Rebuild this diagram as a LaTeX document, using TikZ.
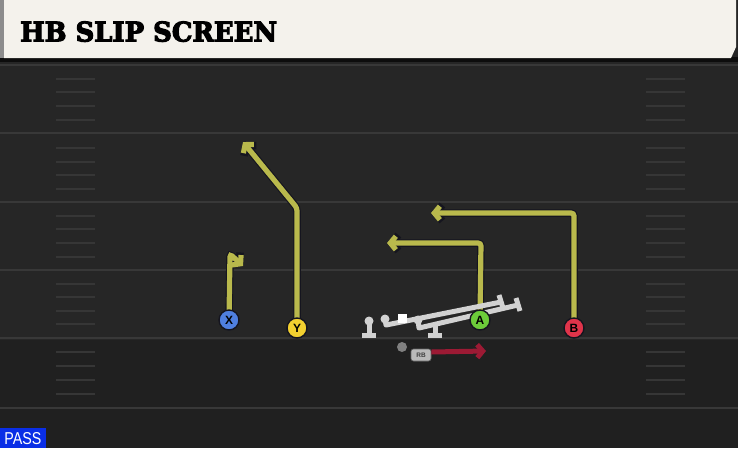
\documentclass[tikz,border=0pt]{standalone}
\usepackage{fontspec}
\setmainfont{Liberation Sans}
\newfontfamily\titlefont[FakeBold=4]{DejaVu Serif}
\usetikzlibrary{arrows.meta}
\definecolor{fieldC}{HTML}{262626}
\definecolor{fieldD}{HTML}{202020}
\definecolor{yardC}{HTML}{383838}
\definecolor{hashC}{HTML}{363636}
\definecolor{creamC}{HTML}{F4F2EC}
\definecolor{routeC}{HTML}{B9B94C}
\definecolor{outlineC}{HTML}{15151F}
\definecolor{xC}{HTML}{4F7FE0}
\definecolor{yC}{HTML}{F2D030}
\definecolor{aC}{HTML}{6CCC3A}
\definecolor{bC}{HTML}{E0344A}
\definecolor{olC}{HTML}{D2D2D2}
\definecolor{rbC}{HTML}{9C1A34}
\definecolor{passC}{HTML}{0A2EE6}
\tikzset{
  yard/.style={draw=yardC, line width=2pt},
  hashm/.style={draw=hashC, line width=1.3pt},
  routeout/.style={draw=outlineC, line width=7.5pt, rounded corners=3pt, -{Straight Barb[length=6.5pt,width=16pt]}},
  routein/.style={draw=routeC, line width=5.2pt, rounded corners=3pt, -{Straight Barb[length=5.5pt,width=13.5pt]}},
  player/.style={circle, draw=outlineC, line width=1.4pt, minimum size=20pt, inner sep=0pt, font=\bfseries\fontsize{12}{12}\selectfont, text=black},
  oline/.style={draw=olC, line width=5pt, line join=round},
}
\begin{document}
\begin{tikzpicture}[x=1pt,y=-1pt]
\useasboundingbox (0,0) rectangle (738,448);
% background
\fill[fieldC] (0,0) rectangle (738,448);
\fill[fieldD] (0,340) rectangle (738,448);
\fill[black!95] (0,57) rectangle (738,62);
\fill[black!45] (0,0) rectangle (4,58);
\fill[creamC] (4,0) -- (736,0) -- (736,47) -- (731,58) -- (4,58) -- cycle;
\node[anchor=south west, inner sep=0pt] (title) at (20,42)
  {\resizebox{257pt}{20pt}{\titlefont\bfseries HB SLIP SCREEN}};
% yard lines
\foreach \yy in {65,133,202,270,338,408} \draw[yard] (0,\yy) -- (738,\yy);
% hash marks
\foreach \yy in {79,92,106,120,148,162,175,189,216,229,243,257,284,297,311,324,352,366,380,394} {
  \draw[hashm] (56,\yy) -- (95,\yy);
  \draw[hashm] (646,\yy) -- (685,\yy);
}
% players
\coordinate (xC) at (229,320);
\coordinate (yCc) at (297,328);
\coordinate (aCc) at (480,320);
\coordinate (bCc) at (574,328);
% route end points
\coordinate (x1) at (230,254);
\coordinate (xe) at (243,266);
\coordinate (y1) at (297,208);
\coordinate (ye) at (243,142);
\coordinate (a1) at (481,243);
\coordinate (ae) at (387,243);
\coordinate (b1) at (574,213);
\coordinate (be) at (431,213);
% routes: outline then fill
\draw[routeout] (xC) -- (x1) -- (xe);
\draw[routein] (xC) -- (x1) -- (xe);
\draw[routeout] (yCc) -- (y1) -- (ye);
\draw[routein] (yCc) -- (y1) -- (ye);
\draw[routeout] (aCc) -- (a1) -- (ae);
\draw[routein] (aCc) -- (a1) -- (ae);
\draw[routeout] (bCc) -- (b1) -- (be);
\draw[routein] (bCc) -- (b1) -- (be);
% offensive line
\fill[olC] (369,321) circle (4.5pt);
\draw[oline] (369,321) -- (369,334);
\draw[oline] (362,335) -- (376,335);
\fill[olC] (385,319) circle (4.5pt);
\draw[oline] (385,319) -- (386,325) -- (501,302);
\draw[oline] (499,295) -- (503,308);
\fill[olC] (418,320) circle (4.5pt);
\draw[oline] (418,320) -- (419,328) -- (518,305);
\draw[oline] (516,298) -- (520,311);
\draw[oline] (435,324) -- (435,334);
\draw[oline] (428,335) -- (442,335);
\node[fill=white, minimum size=9pt, inner sep=0pt] (ctr) at (402,318) {};
% players on top
\node[player, fill=xC] (X) at (xC) {X};
\node[player, fill=yC] (Y) at (yCc) {Y};
\node[player, fill=aC] (A) at (aCc) {A};
\node[player, fill=bC] (B) at (bCc) {B};
% QB and RB
\node[circle, fill=black!50, minimum size=10pt, inner sep=0pt] (qb) at (402,347) {};
\coordinate (rbe) at (486,351);
\node[fill=black!27, draw=black!60, line width=0.6pt, rounded corners=2.5pt, minimum width=20pt, minimum height=12pt, inner sep=0pt,
  font=\bfseries\fontsize{6.5}{6.5}\selectfont, text=black!75] (RB) at (421,355) {RB};
\draw[draw=rbC, line width=5pt, -{Straight Barb[length=5.5pt,width=13pt]}] (RB.east) ++(0,-3) -- (rbe);
% PASS label
\fill[passC] (0,428) rectangle (46,448);
\node[anchor=center, inner sep=0pt, text=white] (pass) at (23,438.5) {\resizebox{37pt}{12pt}{PASS}};
\end{tikzpicture}
\end{document}
